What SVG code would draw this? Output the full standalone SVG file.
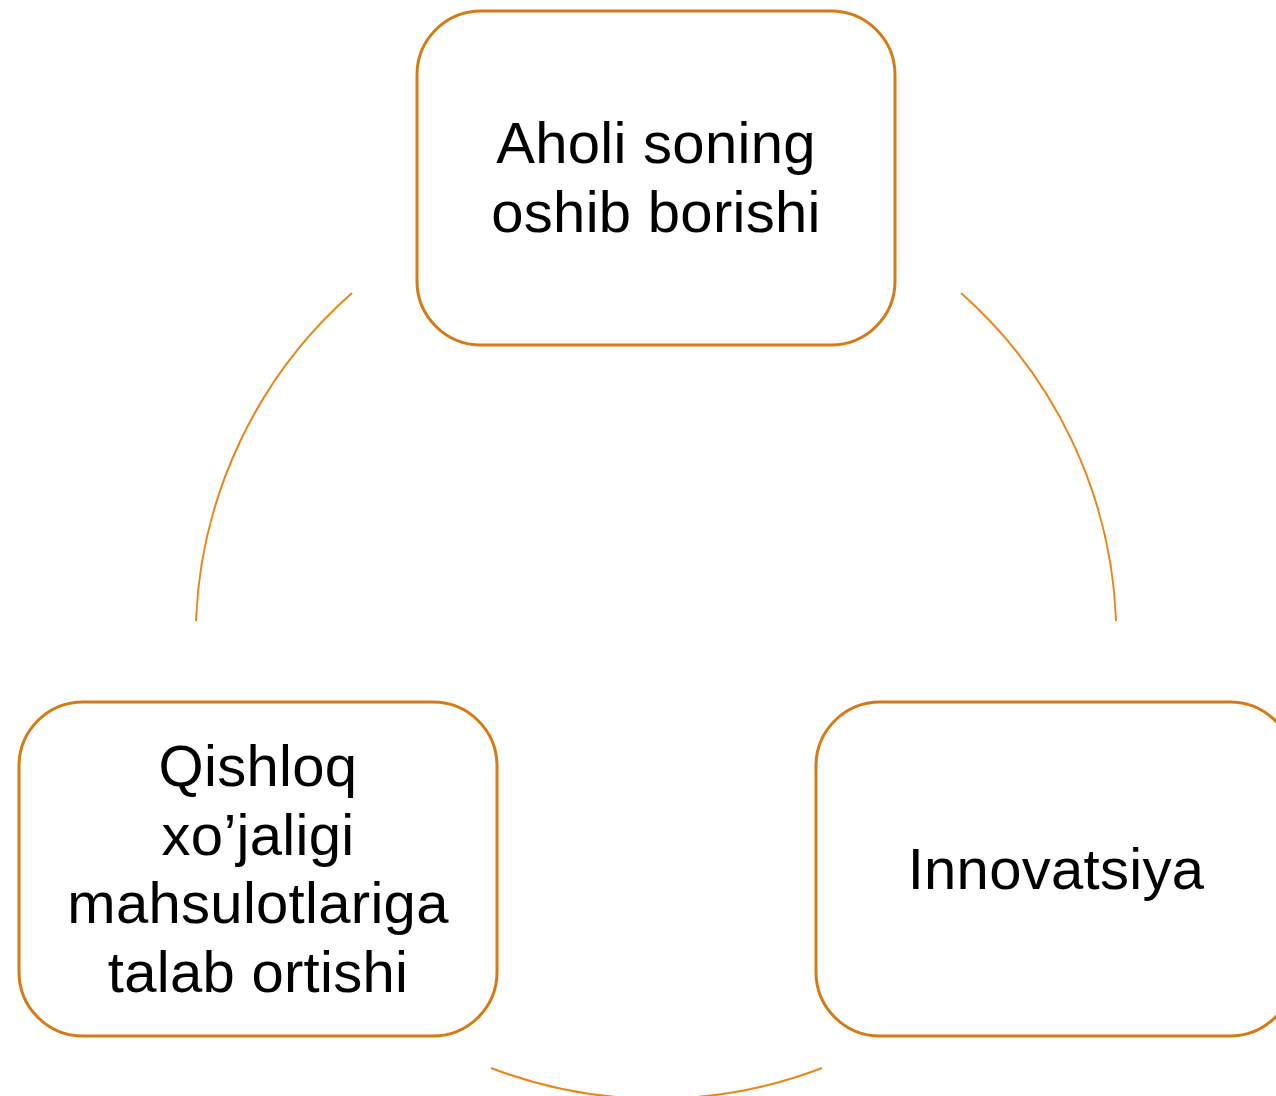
<svg xmlns="http://www.w3.org/2000/svg" width="1276" height="1096" viewBox="0 0 1276 1096">
<style>
.box{fill:#fff;stroke:#D47B17;stroke-width:3}
.arc{fill:none;stroke:#E8861A;stroke-width:2}
.t{font-family:"Liberation Sans",Arial,sans-serif;font-size:58px;letter-spacing:0.3px;fill:#000;text-anchor:middle}
</style>
<rect width="1276" height="1096" fill="#fff"/>
<g id="connectors">
<path class="arc" d="M352 293 A460.5 460.5 0 0 0 196 621"/>
<path class="arc" d="M961 293 A460.5 460.5 0 0 1 1116 621"/>
<path class="arc" d="M491 1068 A460.5 460.5 0 0 0 822 1068"/>
</g>
<g id="node-top">
<rect class="box" x="417" y="11" width="478" height="334" rx="64"/>
<text class="t" x="656" y="163">Aholi soning</text>
<text class="t" x="656" y="232">oshib borishi</text>
</g>
<g id="node-left">
<rect class="box" x="19" y="702" width="478" height="334" rx="64"/>
<text class="t" x="258" y="786">Qishloq</text>
<text class="t" x="258" y="855">xo’jaligi</text>
<text class="t" x="258" y="923">mahsulotlariga</text>
<text class="t" x="258" y="992">talab ortishi</text>
</g>
<g id="node-right">
<rect class="box" x="816" y="702" width="478" height="334" rx="64"/>
<text class="t" x="1056" y="889">Innovatsiya</text>
</g>
</svg>
